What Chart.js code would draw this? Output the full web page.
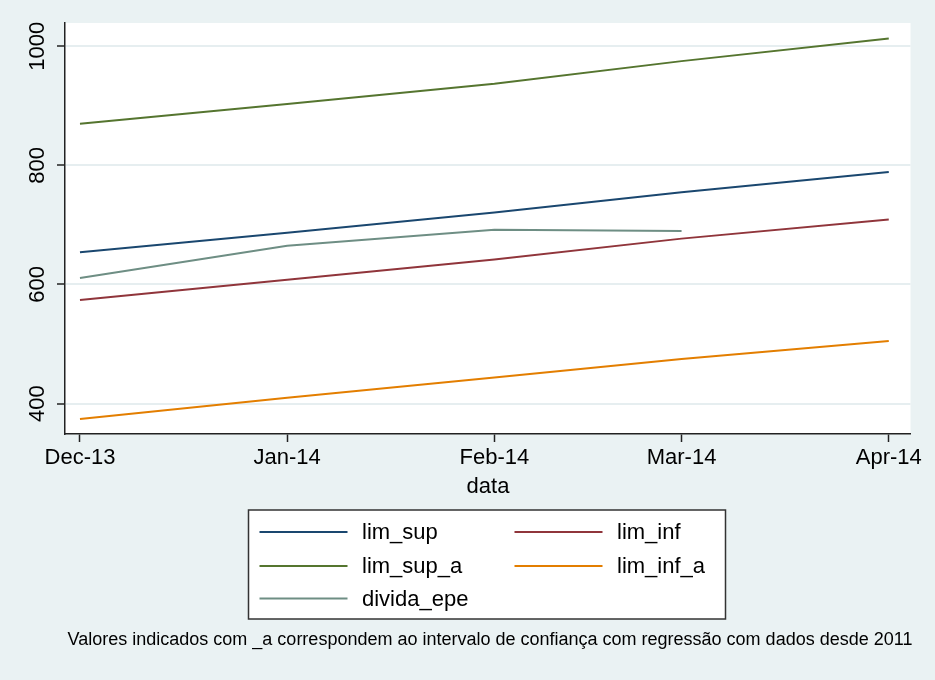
<!DOCTYPE html>
<html>
<head>
<meta charset="utf-8">
<script src="https://cdn.jsdelivr.net/npm/chart.js@4.4.1/dist/chart.umd.min.js"></script>
<style>
  html, body { margin: 0; padding: 0; background: #eaf2f3; }
  #wrap { width: 935px; height: 680px; position: relative; }
</style>
</head>
<body>
<div id="wrap"><canvas id="c"></canvas></div>
<script>
// dias desde 1-dez-2013 (eixo temporal)
const dayOffsets = [0, 31, 62, 90, 121];
const monthLabels = ["Dec-13", "Jan-14", "Feb-14", "Mar-14", "Apr-14"];
const yTicks = [400, 600, 800, 1000];

const limSup   = [654, 687, 721, 755, 789];
const limInf   = [574, 608, 642, 677, 709];
const limSupA  = [870, 903, 937, 975, 1013];
const limInfA  = [374, 410, 444, 475, 505];
const dividaEpe = [611, 665, 692, 690, null];

const note = "Valores indicados com _a correspondem ao intervalo de confiança com regressão com dados desde 2011";
const FONT = "'Liberation Sans', Arial, Helvetica, sans-serif";

function pts(vals) {
  return dayOffsets.map((d, i) => ({ x: d, y: vals[i] }));
}

const series = [
  { label: "lim_sup",    data: limSup,    color: "#1a476f" },
  { label: "lim_inf",    data: limInf,    color: "#90353b" },
  { label: "lim_sup_a",  data: limSupA,   color: "#55752f" },
  { label: "lim_inf_a",  data: limInfA,   color: "#e37e00" },
  { label: "divida_epe", data: dividaEpe, color: "#6e8e84" }
];

// fundo + area do grafico branca
const bgPlugin = {
  id: "bg",
  beforeDraw(chart) {
    const { ctx, chartArea: a } = chart;
    ctx.save();
    ctx.fillStyle = "#eaf2f3";
    ctx.fillRect(0, 0, chart.width, chart.height);
    ctx.fillStyle = "#ffffff";
    ctx.fillRect(a.left, a.top, a.right - a.left, a.bottom - a.top);
    ctx.restore();
  }
};

// rotulos do eixo y (verticais), titulo do eixo x, legenda em caixa e nota
const extrasPlugin = {
  id: "extras",
  afterDraw(chart) {
    const { ctx } = chart;
    const ys = chart.scales.y;
    ctx.save();
    ctx.fillStyle = "#000";
    ctx.font = "22px " + FONT;
    ctx.textAlign = "center";
    ctx.textBaseline = "middle";
    yTicks.forEach(v => {
      const py = ys.getPixelForValue(v);
      ctx.save();
      ctx.translate(38, py);
      ctx.rotate(-Math.PI / 2);
      ctx.fillText(String(v), 0, 0);
      ctx.restore();
    });

    // titulo do eixo x
    ctx.fillText("data", 488, 487);

    // legenda
    ctx.fillStyle = "#ffffff";
    ctx.fillRect(248.5, 510, 477, 109);
    ctx.strokeStyle = "#333";
    ctx.lineWidth = 1.5;
    ctx.strokeRect(248.5, 510, 477, 109);
    const rows = [532, 566, 598.5];
    const cols = [{ x0: 259.5, x1: 347.5, tx: 362 }, { x0: 514.5, x1: 602.5, tx: 617 }];
    ctx.textAlign = "left";
    chart.data.datasets.forEach((ds, i) => {
      const r = rows[Math.floor(i / 2)];
      const c = cols[i % 2];
      ctx.strokeStyle = ds.borderColor;
      ctx.lineWidth = 2;
      ctx.beginPath();
      ctx.moveTo(c.x0, r);
      ctx.lineTo(c.x1, r);
      ctx.stroke();
      ctx.fillStyle = "#000";
      ctx.fillText(ds.label, c.tx, r + 1);
    });

    // nota
    ctx.font = "18px " + FONT;
    ctx.textAlign = "center";
    ctx.fillText(note, 490, 640);
    ctx.restore();
  }
};

new Chart(document.getElementById("c"), {
  type: "line",
  data: {
    datasets: series.map(s => ({
      label: s.label,
      data: pts(s.data),
      borderColor: s.color,
      backgroundColor: s.color,
      borderWidth: 2,
      pointRadius: 0,
      tension: 0,
      spanGaps: false
    }))
  },
  options: {
    responsive: true,
    maintainAspectRatio: false,
    animation: false,
    devicePixelRatio: 1,
    layout: { padding: { top: 23, right: 24.5, left: 0, bottom: 176 } },
    plugins: { legend: { display: false }, tooltip: { enabled: false } },
    scales: {
      x: {
        type: "linear",
        min: -2.24,
        max: 124.25,
        afterBuildTicks: s => { s.ticks = dayOffsets.map(v => ({ value: v })); },
        afterFit: s => { s.height = 70; },
        ticks: {
          autoSkip: false,
          maxRotation: 0,
          minRotation: 0,
          padding: 3,
          color: "#000",
          font: { family: FONT, size: 22 },
          callback: v => monthLabels[dayOffsets.indexOf(v)]
        },
        grid: { drawOnChartArea: false, drawTicks: true, tickLength: 8, tickColor: "#222", tickWidth: 1.5 },
        border: { display: true, color: "#222", width: 1.5 }
      },
      y: {
        min: 349,
        max: 1039,
        afterBuildTicks: s => { s.ticks = yTicks.map(v => ({ value: v })); },
        afterFit: s => { s.width = 65; },
        ticks: { display: false },
        grid: { color: "#e6eef0", lineWidth: 2, drawTicks: true, tickLength: 8, tickColor: "#222", tickWidth: 1.5 },
        border: { display: true, color: "#222", width: 1.5 }
      }
    }
  },
  plugins: [bgPlugin, extrasPlugin]
});
</script>
</body>
</html>
